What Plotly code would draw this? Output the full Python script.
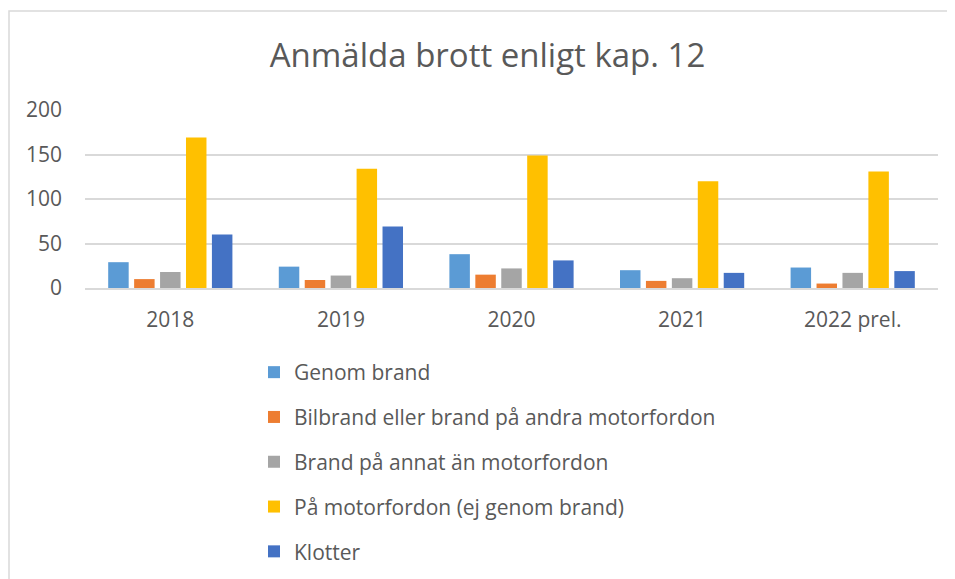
import plotly.graph_objects as go

categories = ["2018", "2019", "2020", "2021", "2022 prel."]
genom_brand = [29, 24, 38, 20, 23]
bilbrand = [10, 9, 15, 8, 5]
brand_annat = [18, 14, 22, 11, 17]
pa_motorfordon = [169, 134, 149, 120, 131]
klotter = [60, 69, 31, 17, 19]

series_names = [
    "Genom brand",
    "Bilbrand eller brand på andra motorfordon",
    "Brand på annat än motorfordon",
    "På motorfordon (ej genom brand)",
    "Klotter",
]
series_values = [genom_brand, bilbrand, brand_annat, pa_motorfordon, klotter]
colors = ["#5B9BD5", "#ED7D31", "#A5A5A5", "#FFC000", "#4472C4"]

FONT = "Open Sans"
TXT = "#595959"

# page body has an 8px margin; figure is sized/offset accordingly
W, H = 947, 571
L, T = 77, 102
PW = 853
PH = 178
R = W - L - PW
B = H - T - PH

fig = go.Figure()
for i, (name, vals, col) in enumerate(zip(series_names, series_values, colors)):
    fig.add_trace(go.Bar(
        x=categories, y=vals, name=name, legendgroup=f"g{i}",
        marker=dict(color=col, line=dict(width=0)),
    ))

fig.update_layout(
    width=W, height=H,
    paper_bgcolor="white", plot_bgcolor="white",
    margin=dict(l=L, r=R, t=T, b=B, pad=0, autoexpand=False),
    barmode="group", bargap=0.24, bargroupgap=0.21,
    title=dict(text="Anmälda brott enligt kap. 12", xref="paper", x=402.5 / PW,
               xanchor="center", y=1 - 47 / H, yanchor="middle",
               font=dict(family=FONT, size=33, color=TXT)),
    font=dict(family=FONT, color=TXT),
    showlegend=True,
    legend=dict(orientation="v", x=169 / PW, xanchor="left",
                yref="container", y=1 - 344 / H, yanchor="top",
                font=dict(family=FONT, size=21, color=TXT),
                tracegroupgap=14.5, bgcolor="rgba(0,0,0,0)"),
    xaxis=dict(showgrid=False, showline=True, linecolor="#D9D9D9", linewidth=1.5,
               ticks="", ticklabelstandoff=12,
               tickfont=dict(family=FONT, size=21, color=TXT)),
    yaxis=dict(range=[0, 200], tickvals=[0, 50, 100, 150, 200],
               showgrid=True, gridcolor="#D9D9D9", gridwidth=1.5,
               zeroline=False, showline=False, ticks="", ticklabelstandoff=22,
               tickfont=dict(family=FONT, size=21, color=TXT)),
    shapes=[dict(type="rect", xref="paper", yref="paper",
                 x0=-(L - 1) / PW, x1=1 + (R + 20) / PW,
                 y0=-(B + 20) / PH, y1=1 + (T - 3) / PH,
                 line=dict(color="#D9D9D9", width=1.5), fillcolor="rgba(0,0,0,0)",
                 layer="below")],
)

fig.write_html("out.html")
